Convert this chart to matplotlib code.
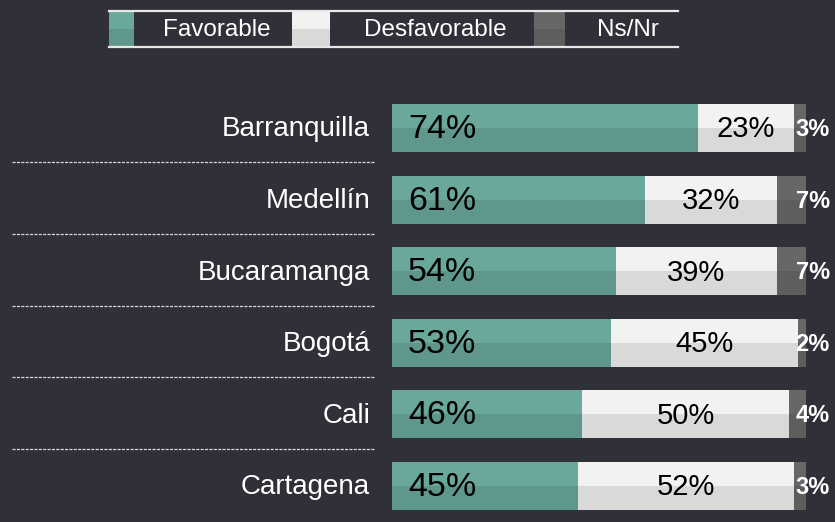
import matplotlib
matplotlib.use("Agg")
import matplotlib.pyplot as plt
from matplotlib.patches import Rectangle
from matplotlib.lines import Line2D
import matplotlib.transforms as mtransforms

plt.rcParams['font.family'] = ['Liberation Sans', 'DejaVu Sans']

cities = ["Barranquilla", "Medellín", "Bucaramanga", "Bogotá", "Cali", "Cartagena"]
favorable = [74, 61, 54, 53, 46, 45]
desfavorable = [23, 32, 39, 45, 50, 52]
nsnr = [3, 7, 7, 2, 4, 3]
series_names = ["Favorable", "Desfavorable", "Ns/Nr"]

BG = "#303039"
colors_top = ["#6aa89c", "#f2f2f2", "#676767"]
colors_bot = ["#5f978c", "#d9d9d9", "#5e5e5e"]

W, H = 835, 522
fig = plt.figure(figsize=(W / 100, H / 100), dpi=100, facecolor=BG)

ax = fig.add_axes([392 / W, 0.2 / H, 414 / W, 429.6 / H])
ax.set_facecolor(BG)
ax.set_xlim(0, 100)
ax.set_ylim(5.5, -0.5)
ax.axis("off")

h = 0.67
ys = list(range(len(cities)))
lefts = [0] * len(cities)
for k, vals in enumerate([favorable, desfavorable, nsnr]):
    ax.barh([y - h / 4 for y in ys], vals, left=lefts, height=h / 2,
            color=colors_top[k], linewidth=0)
    ax.barh([y + h / 4 for y in ys], vals, left=lefts, height=h / 2,
            color=colors_bot[k], linewidth=0)
    lefts = [l + v for l, v in zip(lefts, vals)]

for i, y in enumerate(ys):
    ax.text(3.9, y + 0.02, f"{favorable[i]}%", ha="left", va="center",
            fontsize=24.5, color="black")
    ax.text(favorable[i] + desfavorable[i] / 2, y + 0.02, f"{desfavorable[i]}%",
            ha="center", va="center", fontsize=21, color="black")
    ax.text(101.6, y + 0.02, f"{nsnr[i]}%", ha="center", va="center",
            fontsize=17, color="white", fontweight="bold", clip_on=False)
    ax.text(-5.3, y + 0.02, cities[i], ha="right", va="center",
            fontsize=20, color="white", clip_on=False)

trans = mtransforms.blended_transform_factory(ax.transAxes, ax.transData)
for i in range(len(cities) - 1):
    ax.plot([(12 - 392) / 414, (374 - 392) / 414], [i + 0.48, i + 0.48],
            transform=trans, color="#d8d8d8", linewidth=0.9,
            linestyle=(0, (2.5, 1.0)), clip_on=False)

# Legend
def fx(px):
    return px / W

def fy(py):
    return 1 - py / H

for ly in (11, 47):
    fig.add_artist(Line2D([fx(109), fx(678)], [fy(ly), fy(ly)], color="#e8e8e8",
                          linewidth=1.6, transform=fig.transFigure))
patches = [(109, 134), (292, 330), (534, 565)]
text_x = [216.5, 435, 628]
for k, (x0, x1) in enumerate(patches):
    fig.add_artist(Rectangle((fx(x0), fy(29)), fx(x1) - fx(x0), fy(12) - fy(29),
                             facecolor=colors_top[k], edgecolor="none",
                             transform=fig.transFigure))
    fig.add_artist(Rectangle((fx(x0), fy(46)), fx(x1) - fx(x0), fy(29) - fy(46),
                             facecolor=colors_bot[k], edgecolor="none",
                             transform=fig.transFigure))
    fig.text(fx(text_x[k]), fy(30), series_names[k], ha="center", va="center",
             fontsize=17.5, color="white")

fig.savefig("out.png", dpi=100, facecolor=BG)
